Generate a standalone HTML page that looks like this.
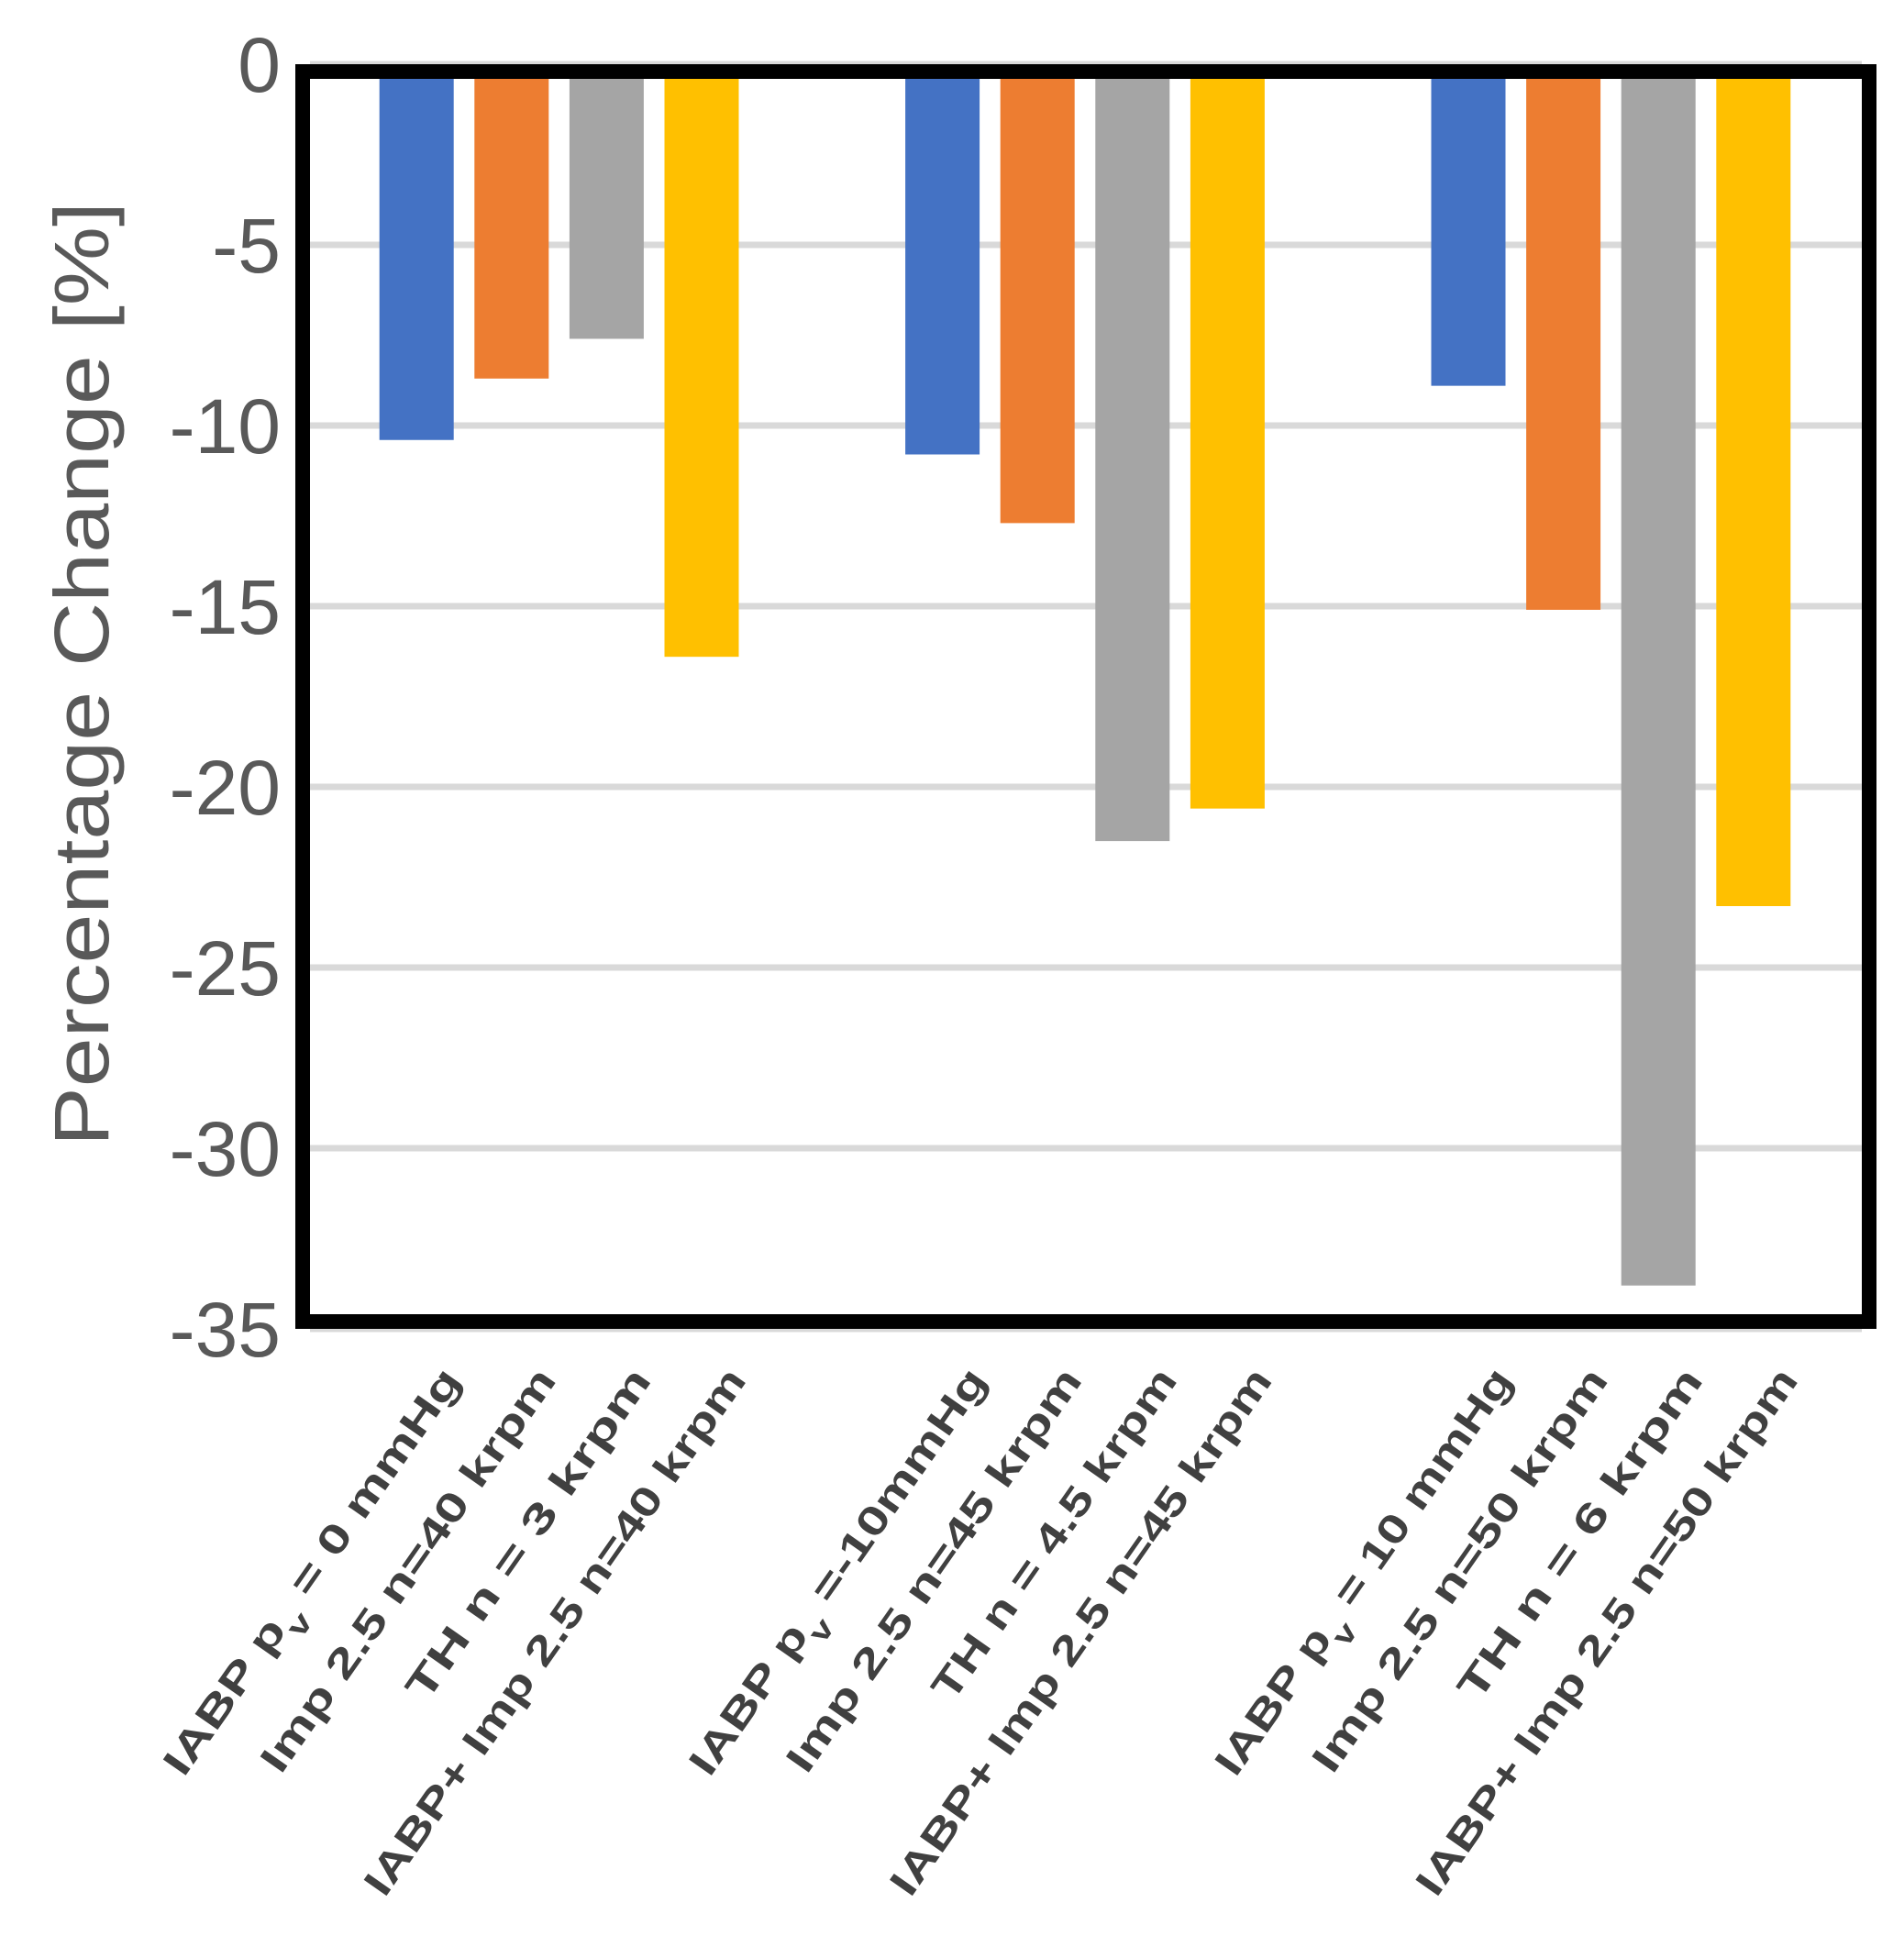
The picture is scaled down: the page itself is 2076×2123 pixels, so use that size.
<!DOCTYPE html>
<html>
<head>
<meta charset="utf-8">
<style>
  html, body { margin: 0; padding: 0; background: #fff; }
  svg { display: block; }
</style>
</head>
<body>
<svg id="chart" width="2076" height="2123" viewBox="0 0 2076 2123" xmlns="http://www.w3.org/2000/svg">
  <rect x="0" y="0" width="2076" height="2123" fill="#fff"/>
  <g id="grid"></g>
  <g id="bars"></g>
  <rect x="330" y="78" width="1708" height="1363" fill="none" stroke="#000" stroke-width="16"/>
  <g id="yticks"></g>
  <text transform="translate(118,735) rotate(-90)" text-anchor="middle" font-family="Liberation Sans, sans-serif" font-size="84" fill="#595959" textLength="1030" lengthAdjust="spacingAndGlyphs">Percentage Change [%]</text>
  <g id="xlabels"></g>
</svg>
<script>
const groups = ["pv0", "pv-10", "pv10"];
const seriesIABP = [-10.4, -10.8, -8.9];
const seriesImp = [-8.7, -12.7, -15.1];
const seriesTH = [-7.6, -21.5, -33.8];
const seriesCombo = [-16.4, -20.6, -23.3];
const yTicks = [0, -5, -10, -15, -20, -25, -30, -35];
const labelsIABP = [["IABP p", "v", " = 0 mmHg"], ["IABP p", "v", " =-10mmHg"], ["IABP p", "v", " = 10 mmHg"]];
const labelsImp = ["Imp 2.5 n=40 krpm", "Imp 2.5 n=45 krpm", "Imp 2.5 n=50 krpm"];
const labelsTH = ["TH n = 3 krpm", "TH n = 4.5 krpm", "TH n = 6 krpm"];
const labelsCombo = ["IABP+ Imp 2.5 n=40 krpm", "IABP+ Imp 2.5 n=45 krpm", "IABP+ Imp 2.5 n=50 krpm"];

const NS = "http://www.w3.org/2000/svg";
const plotLeft = 338, plotRight = 2030, plotTop = 86, plotBottom = 1433;
const y0 = 70, unit = 39.4;
function yScale(v) { return y0 - v * unit; }
const groupW = 573.4;
function groupCenter(i) { return plotLeft + 271.6 + i * groupW; }
const barStep = 103.6, barW = 81;
function barX(g, s) { return groupCenter(g) + (s - 1.5) * barStep - barW / 2; }

const grid = document.getElementById("grid");
yTicks.forEach(t => {
  const y = yScale(t);
  const l = document.createElementNS(NS, "line");
  l.setAttribute("x1", plotLeft); l.setAttribute("x2", plotRight);
  l.setAttribute("y1", y); l.setAttribute("y2", y);
  l.setAttribute("stroke", "#d9d9d9"); l.setAttribute("stroke-width", "7");
  
  
  grid.appendChild(l);
  const tx = document.createElementNS(NS, "text");
  tx.setAttribute("x", 306); tx.setAttribute("y", y + 30);
  tx.setAttribute("text-anchor", "end");
  tx.setAttribute("font-family", "Liberation Sans, sans-serif");
  tx.setAttribute("font-size", "84");
  tx.setAttribute("fill", "#595959");
  tx.textContent = String(t);
  
  
  document.getElementById("yticks").appendChild(tx);
});

const series = [seriesIABP, seriesImp, seriesTH, seriesCombo];
const colors = ["#4472c4", "#ed7d31", "#a5a5a5", "#ffc000"];
const barsG = document.getElementById("bars");
series.forEach((vals, s) => {
  vals.forEach((v, g) => {
    const r = document.createElementNS(NS, "rect");
    const yb = yScale(v);
    r.setAttribute("x", barX(g, s));
    r.setAttribute("y", plotTop);
    r.setAttribute("width", barW);
    r.setAttribute("height", Math.max(0, yb - plotTop));
    r.setAttribute("fill", colors[s]);
    
    
    barsG.appendChild(r);
  });
});

const xl = document.getElementById("xlabels");
const allLabels = [labelsIABP, labelsImp, labelsTH, labelsCombo];
const lens = [530, 526, 430, 690];
allLabels.forEach((labs, s) => {
  labs.forEach((lab, g) => {
    const cx = barX(g, s) + barW / 2 + 50;
    const t = document.createElementNS(NS, "text");
    t.setAttribute("transform", "translate(" + cx + ",1505) rotate(-55)");
    t.setAttribute("text-anchor", "end");
    t.setAttribute("font-family", "Liberation Sans, sans-serif");
    t.setAttribute("font-size", "44");
    t.setAttribute("font-weight", "bold");
    t.setAttribute("fill", "#404040");
    if (Array.isArray(lab)) {
      const a = document.createElementNS(NS, "tspan"); a.textContent = lab[0];
      const b = document.createElementNS(NS, "tspan"); b.textContent = lab[1];
      b.setAttribute("baseline-shift", "sub"); b.setAttribute("font-size", "32");
      const c = document.createElementNS(NS, "tspan"); c.textContent = lab[2];
      t.appendChild(a); t.appendChild(b); t.appendChild(c);
    } else {
      t.textContent = lab;
    }
    t.setAttribute("textLength", lens[s]);
    t.setAttribute("lengthAdjust", "spacingAndGlyphs");
    
    
    xl.appendChild(t);
  });
});
</script>
</body>
</html>
